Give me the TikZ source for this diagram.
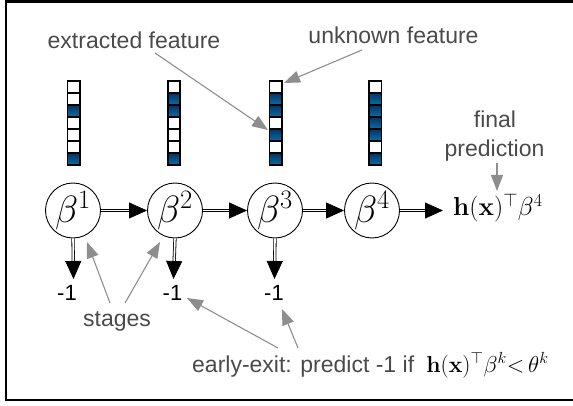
\documentclass[tikz,border=0pt]{standalone}
\usepackage{fix-cm}
\usepackage[no-math]{fontspec}
\newfontfamily\lab{Liberation Sans}
\usetikzlibrary{arrows.meta}
\definecolor{txtgray}{HTML}{4A4A4A}
\definecolor{ptrgray}{HTML}{8E8E8E}
\definecolor{bluetop}{HTML}{023366}
\definecolor{bluebot}{HTML}{0C6EA6}
\newcommand\featcol[3]{%
  \foreach \bit [count=\i] in {#3}{%
    \node[fcell, fc\bit] (#1-\i) at (#2, {86.87+(\i-1)*12.05}) {};}}
\begin{document}
\begin{tikzpicture}[x=1pt,y=-1pt,
  lbltext/.style={font=\lab\fontsize{23}{28}\selectfont, text=txtgray, inner sep=0pt, anchor=base},
  minus/.style={font=\lab\fontsize{22}{26}\selectfont, text=black, inner sep=0pt, anchor=base},
  fcell/.style={draw=black, line width=1.7pt, minimum width=12.3pt, minimum height=12.05pt, inner sep=0pt},
  fc0/.style={fill=white},
  fc1/.style={top color=bluetop, bottom color=bluebot},
  stage/.style={circle, draw=black, line width=0.9pt, minimum size=55pt, inner sep=0pt, font=\fontsize{38}{40}\selectfont},
  dbl/.style={draw=black, double=white, double distance=1.6pt, line width=0.8pt, -{Triangle[length=18pt,width=16pt]}},
  ptr/.style={draw=ptrgray, line width=1.1pt, -{Triangle[length=16pt,width=12pt]}}]
\useasboundingbox (0,0) rectangle (573,406);
\draw[line width=2.8pt] (573,1.4) -- (6,1.4) -- (6,400) -- (573,400);

% feature columns
\featcol{c1}{73.7}{0,0,1,0,0,0,1}
\featcol{c2}{173.8}{0,1,1,0,0,0,1}
\featcol{c3}{275.5}{0,1,1,0,1,0,1}
\featcol{c4}{375.3}{0,1,1,1,1,0,1}

% stages
\node[stage] (b1) at (73,210.5) {$\beta^1$};
\node[stage] (b2) at (175,210.5) {$\beta^2$};
\node[stage] (b3) at (275,210.5) {$\beta^3$};
\node[stage] (b4) at (372,210.5) {$\beta^4$};

\node[anchor=base west, inner sep=0pt, font=\fontsize{26}{30}\selectfont] (out) at (453,216) {$\mathbf{h}(\mathbf{x})^{\top}\beta^4$};
\coordinate (outtip) at (443,210.5);

\draw[dbl] (b1) -- (b2);
\draw[dbl] (b2) -- (b3);
\draw[dbl] (b3) -- (b4);
\draw[dbl] (b4) -- (outtip);

% early exits
\coordinate (e1) at (73.5,279);
\coordinate (e2) at (173.5,279);
\coordinate (e3) at (274.5,279);
\draw[dbl] (b1.south) -- (e1);
\draw[dbl] (b2.south) -- (e2);
\draw[dbl] (b3.south) -- (e3);
\node[minus] (m1) at (67,300) {-1};
\node[minus] (m2) at (172.5,300) {-1};
\node[minus] (m3) at (274,300) {-1};

% labels
\node[lbltext] (ext) at (134,49) {extracted feature};
\node[lbltext] (unk) at (393.5,44) {unknown feature};
\node[lbltext] (fin1) at (495,128) {final};
\node[lbltext] (fin2) at (494.5,157) {prediction};
\node[lbltext] (stg) at (117,326) {stages};
\node[lbltext, anchor=base west] (early) at (192,372) {early-exit: predict -1 if\hspace{0.25em} \textcolor{black}{$\mathbf{h}(\mathbf{x})^{\top}\beta^k{<}\,\theta^k$}};

% pointer arrows
\coordinate (ext-t) at (155,53);   \coordinate (ext-h) at (268,130);
\coordinate (unk-t) at (362,50);   \coordinate (unk-h) at (284,83);
\coordinate (fin-t) at (497,163);  \coordinate (fin-h) at (497,191);
\coordinate (stg-t1) at (110,303); \coordinate (stg-h1) at (87,242);
\coordinate (stg-t2) at (125,303); \coordinate (stg-h2) at (160,242);
\coordinate (ee-t1) at (278,348);  \coordinate (ee-h1) at (187,298);
\coordinate (ee-t2) at (298,348);  \coordinate (ee-h2) at (282,309);
\draw[ptr] (ext-t) -- (ext-h);
\draw[ptr] (unk-t) -- (unk-h);
\draw[ptr] (fin-t) -- (fin-h);
\draw[ptr] (stg-t1) -- (stg-h1);
\draw[ptr] (stg-t2) -- (stg-h2);
\draw[ptr] (ee-t1) -- (ee-h1);
\draw[ptr] (ee-t2) -- (ee-h2);
\end{tikzpicture}
\end{document}
